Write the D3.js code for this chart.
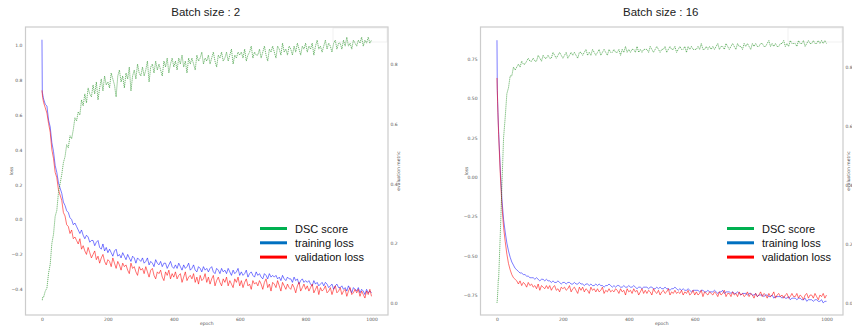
<!DOCTYPE html>
<html>
<head>
<meta charset="utf-8">
<script src="https://cdn.jsdelivr.net/npm/d3@7/dist/d3.min.js"></script>
<style>
  html, body { margin: 0; padding: 0; background: #fff; }
  svg { display: block; }
</style>
</head>
<body>
<div id="chart"></div>
<script>
// epochs: first five epochs, then every 5th epoch
const epochs = [0, 1, 2, 3, 4].concat(d3.range(5, 1001, 5));

const titles = ['Batch size : 2', 'Batch size : 16'];
const legendLabels = ['DSC score', 'training loss', 'validation loss'];
const legendColors = ['#00b050', '#0070c0', '#ff0000'];

// batch size 2
const b2Train = [1.03, 0.73, 0.72, 0.71, 0.70,
  0.69, 0.66, 0.65, 0.57, 0.53, 0.44, 0.39, 0.31, 0.27, 0.21,
  0.18, 0.15, 0.10, 0.08, 0.05, 0.04, 0.01, 0.00, -0.03, -0.02,
  -0.04, -0.06, -0.08, -0.06, -0.09, -0.11, -0.09, -0.10, -0.13, -0.12,
  -0.12, -0.15, -0.13, -0.12, -0.16, -0.17, -0.14, -0.18, -0.16, -0.19,
  -0.17, -0.19, -0.21, -0.18, -0.17, -0.21, -0.20, -0.22, -0.19, -0.21,
  -0.23, -0.20, -0.22, -0.24, -0.21, -0.22, -0.25, -0.22, -0.23, -0.24,
  -0.22, -0.25, -0.24, -0.22, -0.26, -0.24, -0.25, -0.27, -0.23, -0.25,
  -0.26, -0.24, -0.27, -0.25, -0.25, -0.28, -0.26, -0.24, -0.27, -0.28,
  -0.26, -0.28, -0.25, -0.27, -0.29, -0.26, -0.28, -0.27, -0.25, -0.29,
  -0.28, -0.26, -0.29, -0.30, -0.27, -0.28, -0.30, -0.27, -0.29, -0.28,
  -0.30, -0.28, -0.27, -0.30, -0.31, -0.28, -0.29, -0.31, -0.28, -0.30,
  -0.29, -0.31, -0.28, -0.30, -0.32, -0.29, -0.31, -0.30, -0.28, -0.32,
  -0.30, -0.32, -0.31, -0.29, -0.33, -0.31, -0.30, -0.32, -0.33, -0.30,
  -0.32, -0.31, -0.33, -0.34, -0.31, -0.32, -0.34, -0.31, -0.33, -0.32,
  -0.33, -0.32, -0.34, -0.33, -0.35, -0.32, -0.34, -0.35, -0.33, -0.34,
  -0.34, -0.36, -0.33, -0.35, -0.34, -0.37, -0.35, -0.34, -0.36, -0.35,
  -0.36, -0.35, -0.37, -0.38, -0.35, -0.37, -0.36, -0.38, -0.37, -0.36,
  -0.38, -0.36, -0.37, -0.39, -0.38, -0.37, -0.40, -0.38, -0.37, -0.39,
  -0.39, -0.38, -0.40, -0.39, -0.41, -0.38, -0.40, -0.42, -0.39, -0.40,
  -0.41, -0.39, -0.42, -0.40, -0.41, -0.43, -0.40, -0.42, -0.41, -0.42];

const b2Val = [0.74, 0.72, 0.70, 0.69, 0.68,
  0.67, 0.64, 0.61, 0.55, 0.50, 0.40, 0.35, 0.27, 0.24, 0.17,
  0.14, 0.11, 0.04, 0.02, -0.03, -0.04, -0.08, -0.06, -0.11, -0.10,
  -0.12, -0.14, -0.11, -0.17, -0.15, -0.18, -0.20, -0.16, -0.19, -0.22,
  -0.20, -0.18, -0.23, -0.21, -0.25, -0.22, -0.20, -0.24, -0.26, -0.23,
  -0.24, -0.27, -0.22, -0.25, -0.28, -0.24, -0.26, -0.29, -0.25, -0.27,
  -0.26, -0.29, -0.31, -0.25, -0.28, -0.27, -0.30, -0.32, -0.27, -0.29,
  -0.28, -0.31, -0.27, -0.30, -0.33, -0.29, -0.28, -0.32, -0.34, -0.30,
  -0.31, -0.29, -0.33, -0.35, -0.30, -0.32, -0.29, -0.34, -0.31, -0.33,
  -0.30, -0.34, -0.32, -0.31, -0.36, -0.33, -0.30, -0.35, -0.33, -0.32,
  -0.34, -0.31, -0.36, -0.33, -0.37, -0.32, -0.35, -0.34, -0.31, -0.36,
  -0.33, -0.37, -0.34, -0.32, -0.38, -0.35, -0.33, -0.36, -0.38, -0.34,
  -0.36, -0.33, -0.38, -0.35, -0.37, -0.39, -0.34, -0.36, -0.33, -0.38,
  -0.35, -0.39, -0.36, -0.34, -0.38, -0.37, -0.40, -0.35, -0.37, -0.36,
  -0.38, -0.35, -0.37, -0.40, -0.36, -0.34, -0.39, -0.37, -0.41, -0.36,
  -0.37, -0.39, -0.35, -0.38, -0.41, -0.36, -0.38, -0.40, -0.37, -0.39,
  -0.40, -0.37, -0.39, -0.42, -0.38, -0.36, -0.41, -0.39, -0.37, -0.40,
  -0.38, -0.41, -0.39, -0.37, -0.42, -0.40, -0.38, -0.43, -0.39, -0.41,
  -0.40, -0.38, -0.42, -0.41, -0.39, -0.43, -0.40, -0.38, -0.42, -0.41,
  -0.39, -0.43, -0.41, -0.40, -0.44, -0.41, -0.39, -0.43, -0.42, -0.40,
  -0.42, -0.40, -0.44, -0.41, -0.43, -0.45, -0.41, -0.43, -0.40, -0.44];

const b2Dsc = [0.01, 0.01, 0.02, 0.02, 0.02,
  0.02, 0.04, 0.05, 0.10, 0.13, 0.20, 0.23, 0.29, 0.31, 0.37,
  0.40, 0.43, 0.47, 0.49, 0.53, 0.52, 0.56, 0.55, 0.58, 0.62,
  0.61, 0.64, 0.63, 0.68, 0.66, 0.70, 0.67, 0.72, 0.70, 0.69,
  0.73, 0.70, 0.74, 0.68, 0.72, 0.75, 0.71, 0.76, 0.73, 0.74,
  0.72, 0.77, 0.75, 0.73, 0.69, 0.76, 0.78, 0.74, 0.76, 0.72,
  0.77, 0.75, 0.79, 0.71, 0.76, 0.78, 0.75, 0.80, 0.77, 0.76,
  0.79, 0.76, 0.78, 0.81, 0.74, 0.79, 0.80, 0.77, 0.81, 0.78,
  0.80, 0.78, 0.76, 0.81, 0.79, 0.82, 0.77, 0.80, 0.82, 0.79,
  0.81, 0.78, 0.82, 0.80, 0.83, 0.79, 0.81, 0.77, 0.82, 0.80,
  0.82, 0.80, 0.78, 0.83, 0.81, 0.82, 0.84, 0.80, 0.82, 0.81,
  0.83, 0.80, 0.82, 0.84, 0.81, 0.79, 0.83, 0.82, 0.84, 0.81,
  0.82, 0.84, 0.81, 0.83, 0.85, 0.80, 0.83, 0.82, 0.84, 0.83,
  0.84, 0.82, 0.85, 0.81, 0.83, 0.84, 0.86, 0.82, 0.84, 0.83,
  0.83, 0.85, 0.82, 0.84, 0.86, 0.83, 0.81, 0.85, 0.84, 0.86,
  0.84, 0.82, 0.86, 0.85, 0.83, 0.87, 0.84, 0.85, 0.83, 0.86,
  0.85, 0.83, 0.86, 0.84, 0.87, 0.85, 0.83, 0.86, 0.85, 0.87,
  0.84, 0.86, 0.85, 0.87, 0.83, 0.86, 0.88, 0.85, 0.86, 0.84,
  0.86, 0.88, 0.85, 0.87, 0.86, 0.84, 0.87, 0.88, 0.85, 0.87,
  0.87, 0.85, 0.88, 0.86, 0.89, 0.86, 0.87, 0.85, 0.88, 0.87,
  0.86, 0.88, 0.87, 0.89, 0.86, 0.88, 0.87, 0.89, 0.87, 0.88];

// batch size 16
const b16Train = [0.87, 0.56, 0.48, 0.41, 0.35,
  0.29, 0.05, -0.14, -0.27, -0.35, -0.42, -0.47, -0.51, -0.54, -0.56,
  -0.58, -0.59, -0.60, -0.61, -0.61, -0.62, -0.62, -0.63, -0.63, -0.64,
  -0.64, -0.64, -0.65, -0.64, -0.65, -0.66, -0.65, -0.65, -0.66, -0.65,
  -0.66, -0.66, -0.67, -0.66, -0.67, -0.67, -0.66, -0.67, -0.68, -0.67,
  -0.67, -0.68, -0.67, -0.67, -0.68, -0.68, -0.67, -0.68, -0.68, -0.67,
  -0.68, -0.68, -0.69, -0.68, -0.68, -0.69, -0.68, -0.69, -0.69, -0.68,
  -0.69, -0.68, -0.69, -0.69, -0.70, -0.69, -0.69, -0.68, -0.69, -0.70,
  -0.69, -0.70, -0.69, -0.69, -0.70, -0.70, -0.69, -0.70, -0.70, -0.69,
  -0.70, -0.70, -0.69, -0.70, -0.71, -0.70, -0.70, -0.71, -0.70, -0.70,
  -0.70, -0.71, -0.70, -0.70, -0.71, -0.71, -0.70, -0.71, -0.70, -0.71,
  -0.71, -0.70, -0.71, -0.71, -0.72, -0.71, -0.71, -0.70, -0.71, -0.72,
  -0.71, -0.72, -0.71, -0.72, -0.72, -0.71, -0.72, -0.73, -0.72, -0.72,
  -0.72, -0.72, -0.73, -0.72, -0.72, -0.73, -0.73, -0.72, -0.73, -0.73,
  -0.73, -0.72, -0.73, -0.74, -0.73, -0.73, -0.72, -0.74, -0.73, -0.73,
  -0.73, -0.74, -0.73, -0.74, -0.74, -0.73, -0.74, -0.75, -0.74, -0.74,
  -0.74, -0.75, -0.74, -0.74, -0.75, -0.75, -0.74, -0.76, -0.75, -0.75,
  -0.75, -0.76, -0.75, -0.75, -0.76, -0.76, -0.75, -0.77, -0.76, -0.76,
  -0.76, -0.76, -0.77, -0.76, -0.77, -0.77, -0.76, -0.78, -0.77, -0.77,
  -0.77, -0.78, -0.77, -0.77, -0.78, -0.78, -0.77, -0.79, -0.78, -0.78,
  -0.78, -0.79, -0.78, -0.78, -0.79, -0.79, -0.78, -0.80, -0.79, -0.79];

const b16Val = [0.63, 0.55, 0.47, 0.40, 0.33,
  0.27, 0.02, -0.18, -0.32, -0.41, -0.49, -0.55, -0.59, -0.62, -0.64,
  -0.65, -0.66, -0.68, -0.66, -0.69, -0.67, -0.68, -0.70, -0.67, -0.69,
  -0.68, -0.70, -0.69, -0.71, -0.68, -0.72, -0.69, -0.70, -0.71, -0.69,
  -0.71, -0.69, -0.72, -0.70, -0.69, -0.72, -0.71, -0.73, -0.70, -0.71,
  -0.70, -0.72, -0.71, -0.69, -0.73, -0.71, -0.70, -0.72, -0.74, -0.70,
  -0.72, -0.70, -0.73, -0.71, -0.72, -0.74, -0.70, -0.72, -0.71, -0.73,
  -0.71, -0.73, -0.72, -0.70, -0.74, -0.72, -0.73, -0.71, -0.73, -0.72,
  -0.73, -0.71, -0.72, -0.74, -0.71, -0.73, -0.72, -0.75, -0.71, -0.73,
  -0.72, -0.74, -0.71, -0.73, -0.72, -0.75, -0.73, -0.71, -0.74, -0.72,
  -0.74, -0.72, -0.73, -0.75, -0.71, -0.73, -0.74, -0.72, -0.75, -0.73,
  -0.72, -0.74, -0.73, -0.71, -0.75, -0.73, -0.74, -0.72, -0.74, -0.73,
  -0.74, -0.72, -0.75, -0.73, -0.74, -0.72, -0.75, -0.74, -0.72, -0.75,
  -0.73, -0.75, -0.74, -0.72, -0.76, -0.73, -0.74, -0.75, -0.73, -0.74,
  -0.75, -0.73, -0.74, -0.76, -0.73, -0.75, -0.74, -0.72, -0.76, -0.74,
  -0.74, -0.76, -0.73, -0.75, -0.74, -0.76, -0.73, -0.75, -0.74, -0.76,
  -0.75, -0.73, -0.76, -0.74, -0.75, -0.77, -0.74, -0.76, -0.75, -0.73,
  -0.76, -0.74, -0.75, -0.77, -0.74, -0.76, -0.75, -0.73, -0.77, -0.75,
  -0.74, -0.76, -0.75, -0.77, -0.75, -0.74, -0.77, -0.76, -0.74, -0.76,
  -0.76, -0.74, -0.77, -0.75, -0.76, -0.78, -0.75, -0.74, -0.77, -0.75,
  -0.75, -0.77, -0.74, -0.76, -0.78, -0.75, -0.76, -0.74, -0.77, -0.75];

const b16Dsc = [0.00, 0.01, 0.03, 0.05, 0.08,
  0.08, 0.23, 0.40, 0.56, 0.63, 0.71, 0.73, 0.77, 0.77, 0.80,
  0.79, 0.80, 0.81, 0.80, 0.82, 0.81, 0.81, 0.82, 0.83, 0.82,
  0.82, 0.83, 0.82, 0.82, 0.84, 0.83, 0.82, 0.84, 0.83, 0.83,
  0.84, 0.83, 0.83, 0.85, 0.84, 0.83, 0.84, 0.85, 0.84, 0.83,
  0.84, 0.85, 0.83, 0.84, 0.85, 0.84, 0.85, 0.84, 0.83, 0.85,
  0.85, 0.84, 0.85, 0.86, 0.84, 0.85, 0.84, 0.86, 0.85, 0.84,
  0.85, 0.86, 0.84, 0.85, 0.86, 0.85, 0.84, 0.86, 0.85, 0.85,
  0.86, 0.85, 0.85, 0.86, 0.84, 0.86, 0.85, 0.87, 0.85, 0.86,
  0.85, 0.86, 0.86, 0.85, 0.87, 0.85, 0.86, 0.85, 0.86, 0.86,
  0.86, 0.85, 0.87, 0.86, 0.85, 0.86, 0.87, 0.86, 0.85, 0.86,
  0.86, 0.87, 0.85, 0.86, 0.87, 0.86, 0.86, 0.87, 0.85, 0.86,
  0.87, 0.86, 0.86, 0.87, 0.85, 0.87, 0.86, 0.87, 0.86, 0.86,
  0.86, 0.87, 0.86, 0.88, 0.86, 0.86, 0.87, 0.86, 0.87, 0.86,
  0.87, 0.86, 0.87, 0.88, 0.86, 0.87, 0.87, 0.86, 0.88, 0.87,
  0.86, 0.87, 0.88, 0.87, 0.86, 0.88, 0.87, 0.87, 0.86, 0.88,
  0.87, 0.88, 0.87, 0.86, 0.88, 0.87, 0.88, 0.87, 0.87, 0.88,
  0.88, 0.87, 0.87, 0.88, 0.89, 0.87, 0.88, 0.87, 0.88, 0.87,
  0.87, 0.88, 0.88, 0.89, 0.87, 0.88, 0.87, 0.89, 0.88, 0.88,
  0.88, 0.87, 0.89, 0.88, 0.88, 0.89, 0.87, 0.88, 0.89, 0.88,
  0.88, 0.89, 0.88, 0.88, 0.89, 0.88, 0.89, 0.88, 0.89, 0.88];

const lossTicks2 = [-0.4, -0.2, 0.0, 0.2, 0.4, 0.6, 0.8, 1.0];
const lossTicks16 = [-0.75, -0.5, -0.25, 0.0, 0.25, 0.5, 0.75];
const metricTicks = [0.0, 0.2, 0.4, 0.6, 0.8];
const epochTicks = [0, 200, 400, 600, 800, 1000];

const width = 852;
const height = 326;

const svg = d3.select('#chart').append('svg')
  .attr('width', width)
  .attr('height', height);

const panels = [
  {
    title: titles[0], left: 25.5, right: 388, top: 27, bottom: 315,
    xDomain: [-50, 1050], lossDomain: [-0.547, 1.103], metricDomain: [-0.04, 0.924],
    lossTicks: lossTicks2, lossFormat: d3.format('.1f'),
    train: b2Train, val: b2Val, dsc: b2Dsc, legendX: 260
  },
  {
    title: titles[1], left: 480.5, right: 843, top: 27, bottom: 315,
    xDomain: [-50, 1050], lossDomain: [-0.877, 0.954], metricDomain: [-0.041, 0.936],
    lossTicks: lossTicks16, lossFormat: d3.format('.2f'),
    train: b16Train, val: b16Val, dsc: b16Dsc, legendX: 727
  }
];

const minus = s => s.replace('-', '\u2212');

panels.forEach(p => {
  const x = d3.scaleLinear().domain(p.xDomain).range([p.left, p.right]);
  const yLoss = d3.scaleLinear().domain(p.lossDomain).range([p.bottom, p.top]);
  const yMetric = d3.scaleLinear().domain(p.metricDomain).range([p.bottom, p.top]);
  const cx = (p.left + p.right) / 2;

  // title
  svg.append('text')
    .attr('x', cx - 1)
    .attr('y', 16)
    .attr('text-anchor', 'middle')
    .style('font-family', '"Liberation Sans", Arial, sans-serif')
    .style('font-size', '11.5px')
    .style('fill', '#222')
    .text(p.title);

  // faint empty box top right
  svg.append('rect')
    .attr('x', p.right - 55).attr('y', p.top + 1)
    .attr('width', 54).attr('height', 14)
    .attr('fill', '#fff').attr('stroke', '#eee').attr('stroke-width', 0.8);

  const clip = 'clip' + Math.round(p.left);
  svg.append('clipPath').attr('id', clip)
    .append('rect')
    .attr('x', p.left).attr('y', p.top)
    .attr('width', p.right - p.left).attr('height', p.bottom - p.top);

  const plot = svg.append('g').attr('clip-path', 'url(#' + clip + ')');

  const lossLine = vals => d3.line()
    .x((d, i) => x(epochs[i]))
    .y(d => yLoss(d))(vals);

  plot.append('path')
    .attr('d', lossLine(p.train))
    .attr('fill', 'none')
    .attr('stroke', '#0000ff')
    .attr('stroke-opacity', 0.65)
    .attr('stroke-width', 0.8);

  plot.append('path')
    .attr('d', lossLine(p.val))
    .attr('fill', 'none')
    .attr('stroke', '#ff0000')
    .attr('stroke-opacity', 0.7)
    .attr('stroke-width', 0.8);

  plot.append('path')
    .attr('d', d3.line().x((d, i) => x(epochs[i])).y(d => yMetric(d))(p.dsc))
    .attr('fill', 'none')
    .attr('stroke', '#008000')
    .attr('stroke-opacity', 0.7)
    .attr('stroke-width', 0.8)
    .attr('stroke-dasharray', '1.2,0.8');

  // frame
  svg.append('rect')
    .attr('x', p.left).attr('y', p.top)
    .attr('width', p.right - p.left).attr('height', p.bottom - p.top)
    .attr('fill', 'none').attr('stroke', '#cccccc').attr('stroke-width', 1.2);

  const tickFont = g => g.attr('color', '#555').selectAll('text')
    .style('font-family', '"DejaVu Sans", sans-serif')
    .style('font-size', '4.5px')
    .attr('fill', '#555');

  // x axis
  svg.append('g')
    .attr('transform', 'translate(0,' + p.bottom + ')')
    .call(d3.axisBottom(x).tickValues(epochTicks).tickSize(0).tickPadding(3)
      .tickFormat(d3.format('d')))
    .call(g => g.select('.domain').remove())
    .call(tickFont);

  // left loss axis
  svg.append('g')
    .attr('transform', 'translate(' + p.left + ',0)')
    .call(d3.axisLeft(yLoss).tickValues(p.lossTicks).tickSize(0).tickPadding(3)
      .tickFormat(d => minus(p.lossFormat(d))))
    .call(g => g.select('.domain').remove())
    .call(tickFont);

  // right metric axis
  svg.append('g')
    .attr('transform', 'translate(' + p.right + ',0)')
    .call(d3.axisRight(yMetric).tickValues(metricTicks).tickSize(0).tickPadding(2.5)
      .tickFormat(d3.format('.1f')))
    .call(g => g.select('.domain').remove())
    .call(tickFont);

  const labelStyle = t => t
    .style('font-family', '"DejaVu Sans", sans-serif')
    .style('font-size', '4.5px')
    .style('fill', '#555')
    .attr('text-anchor', 'middle');

  svg.append('text').attr('x', cx).attr('y', 325).call(labelStyle).text('epoch');
  svg.append('text')
    .attr('transform', 'translate(' + (p.left - 12.5) + ',' + ((p.top + p.bottom) / 2) + ') rotate(-90)')
    .call(labelStyle).text('loss');
  svg.append('text')
    .attr('transform', 'translate(' + Math.min(p.right + 12, 850) + ',' + ((p.top + p.bottom) / 2) + ') rotate(-90)')
    .call(labelStyle).text('evaluation metric');

  // legend
  const lg = svg.append('g').attr('transform', 'translate(' + p.legendX + ',228.5)');
  legendLabels.forEach((label, i) => {
    lg.append('line')
      .attr('x1', 0).attr('x2', 27)
      .attr('y1', i * 14.3).attr('y2', i * 14.3)
      .attr('stroke', legendColors[i]).attr('stroke-width', 3);
    lg.append('text')
      .attr('x', 35).attr('y', i * 14.3 + 4)
      .style('font-family', '"Liberation Sans", Arial, sans-serif')
      .style('font-size', '11px')
      .style('fill', '#111')
      .text(label);
  });
});
</script>
</body>
</html>
